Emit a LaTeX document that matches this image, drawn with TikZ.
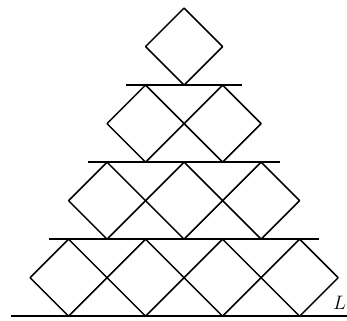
\documentclass[tikz,border=0pt]{standalone}
\begin{document}
\begin{tikzpicture}[line join=round]
    \clip (-4.78,-0.10) rectangle (4.23,8.21);

    % bottom line and shelves between the rows
    \draw[line width=1.3pt] (-4.5,0) -- (4.6,0);
    \foreach \r in {1,2,3} {
        \draw[line width=1.3pt] ({-(4.5-\r)},{2*\r}) -- ({4.5-\r},{2*\r});
    }

    % diamonds, row \r from the top holds \r of them
    \foreach \r in {1,...,4} {
        \foreach \j in {1,...,\r} {
            \draw[line width=1.1pt]
                ({-\r+2*\j-1},{8-2*\r}) -- ++(1,1) -- ++(-1,1) -- ++(-1,-1) -- cycle;
        }
    }

    \node[left, inner sep=0.5pt] (lab) at (4.23,0.34) {\Large\(L\)};
\end{tikzpicture}
\end{document}
